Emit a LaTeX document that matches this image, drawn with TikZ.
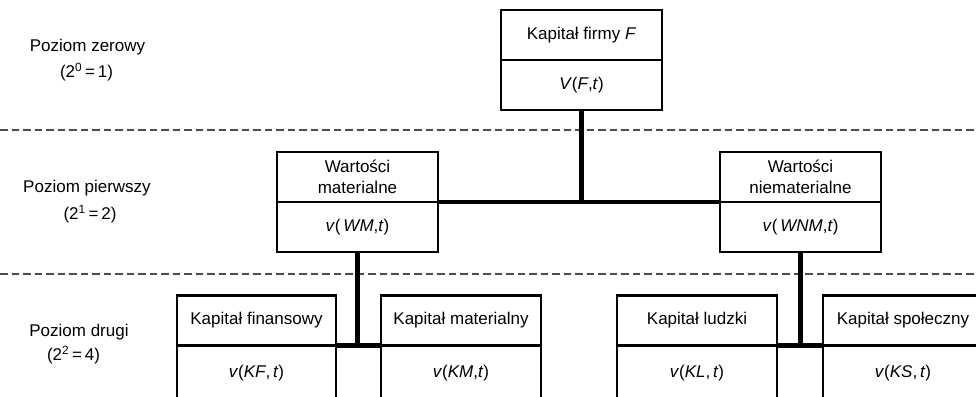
\documentclass[tikz,border=0pt]{standalone}
\usepackage{fontspec}
\setmainfont{Liberation Sans}
\begin{document}
\begin{tikzpicture}[x=1pt,y=-1pt,
  half/.style={draw=black, line width=2.4pt, inner sep=0pt, outer sep=0pt,
    minimum width=161pt, minimum height=50pt, align=center,
    font=\fontsize{17}{21}\selectfont},
  low/.style={half, minimum height=54pt},
  lvl/.style={inner sep=0pt, font=\fontsize{17}{21}\selectfont},
  conn/.style={line width=4.6pt, line cap=butt},
  sep/.style={draw=black!70, line width=1.2pt, dash pattern=on 7.5pt off 4pt}]
\useasboundingbox (0,0) rectangle (976,396);
\fill[white] (0,0) rectangle (976,396);
% separators
\draw[sep] (0,130) -- (976,130);
\draw[sep] (0,274) -- (976,274);
% level labels
\node[lvl] (l0a) at (87.5,47) {Poziom zerowy};
\node[lvl] (l0b) at (86.5,72) {(2\textsuperscript{0}\,=\,1)};
\node[lvl] (l1a) at (87,188) {Poziom pierwszy};
\node[lvl] (l1b) at (90,214) {(2\textsuperscript{1}\,=\,2)};
\node[lvl] (l2a) at (79,332) {Poziom drugi};
\node[lvl] (l2b) at (73.5,355) {(2\textsuperscript{2}\,=\,4)};
% level 0
\node[half] (fT) at (581.5,35) {Kapitał firmy \textit{F}};
\node[half] (fB) at (581.5,85) {\textit{V}(\textit{F},\textit{t})};
% level 1
\node[half] (wmT) at (357.5,177) {Wartości\\materialne};
\node[half] (wmB) at (357.5,227) {\textit{v}(\,\textit{WM},\textit{t})};
\node[half] (wnmT) at (800.5,177) {Wartości\\niematerialne};
\node[half] (wnmB) at (800.5,227) {\textit{v}(\,\textit{WNM},\textit{t})};
% level 2
\node[half, minimum width=159pt] (kfT) at (256.5,320.5) {Kapitał finansowy};
\node[low, minimum width=159pt] (kfB) at (256.5,373) {\textit{v}(\textit{KF},\,\textit{t})};
\node[half, minimum width=160pt] (kmT) at (461,320.5) {Kapitał materialny};
\node[low, minimum width=160pt] (kmB) at (461,373) {\textit{v}(\textit{KM},\textit{t})};
\node[half, minimum width=160pt] (klT) at (697,320.5) {Kapitał ludzki};
\node[low, minimum width=160pt] (klB) at (697,373) {\textit{v}(\textit{KL},\,\textit{t})};
\node[half, minimum width=160pt] (ksT) at (903,320.5) {Kapitał społeczny};
\node[low, minimum width=160pt] (ksB) at (903,373) {\textit{v}(\textit{KS},\,\textit{t})};
% connectors
\draw[conn] (wmT.south east) -- (wnmT.south west);
\draw[conn] (fB.south) -- (fB.south |- wmT.south east);
\draw[conn] (kfT.south east) -- (kmT.south west);
\draw[conn] (wmB.south) -- (wmB.south |- kfT.south east);
\draw[conn] (klT.south east) -- (ksT.south west);
\draw[conn] (wnmB.south) -- (wnmB.south |- klT.south east);
\end{tikzpicture}
\end{document}
